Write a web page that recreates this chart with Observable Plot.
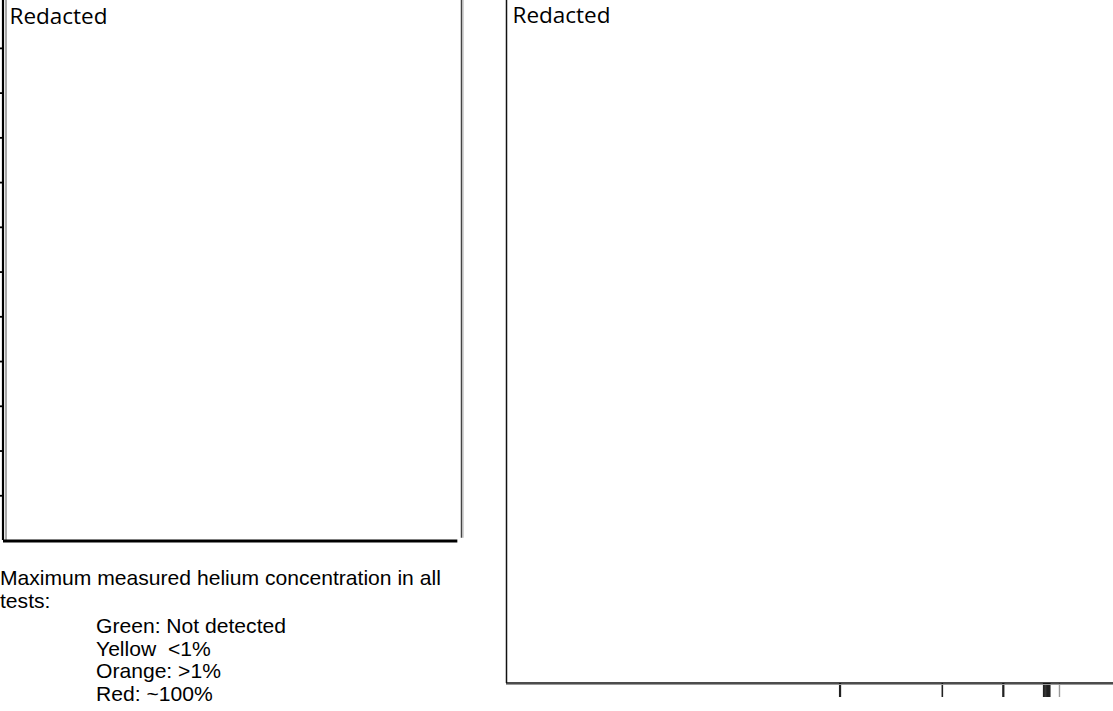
<!DOCTYPE html>
<html>
<head>
<meta charset="utf-8">
<script src="https://cdn.jsdelivr.net/npm/d3@7"></script>
<script src="https://cdn.jsdelivr.net/npm/@observablehq/plot@0.6"></script>
<style>
  html, body { margin: 0; padding: 0; background: #fff; }
  #wrap { position: relative; width: 1113px; height: 711px; overflow: hidden; }
  #left { position: absolute; left: 0; top: 0; }
  #right { position: absolute; left: 500px; top: 0; }
  .cap { position: absolute; left: 0; font-family: "Liberation Sans", Arial, sans-serif; font-size: 21.1px; line-height: 22.6px; color: #000; white-space: pre; }
  #cap1 { top: 567px; }
  #cap2 { top: 615px; left: 96px; }
</style>
</head>
<body>
<div id="wrap">
  <div id="left"></div>
  <div id="right"></div>
  <div class="cap" id="cap1"></div>
  <div class="cap" id="cap2"></div>
</div>
<script>
// ---- data ----
const panelTitles = ["Redacted", "Redacted"];
const leftTicks = [1, 2, 3, 4, 5, 6, 7, 8, 9, 10, 11];
const rightTicksDark = [54.9, 55.0, 71.8, 81.8, 81.9, 88.5, 88.7, 88.9, 89.1, 89.3, 89.5];
const rightTicksLight = [91.1];
const captionLines = ["Maximum measured helium concentration in all", "tests:"];
const legendLines = ["Green: Not detected", "Yellow  <1%", "Orange: >1%", "Red: ~100%"];

const titleFont = "'Open Sans', 'DejaVu Sans', sans-serif";
const noLabel = () => "";

// ---- left panel ----
const left = Plot.plot({
  width: 466, height: 545,
  marginLeft: 3, marginRight: 5, marginTop: 0, marginBottom: 5,
  x: {domain: [0, 1], axis: null},
  y: {domain: [0, 12.07], axis: null},
  marks: [
    Plot.axisY(leftTicks, {anchor: "left", tickSize: 3, tickFormat: noLabel, label: null, stroke: "#000", strokeWidth: 1.8}),
    Plot.ruleX([0], {y1: 0, y2: 12.07, stroke: "#000", strokeWidth: 2.2, dx: -0.5}),
    Plot.ruleX([0], {y1: 0, y2: 12.07, stroke: "#555", strokeWidth: 1, dx: 2.5}),
    Plot.ruleX([1], {y1: 0.05, y2: 12.07, stroke: "#444", strokeWidth: 1.5}),
    Plot.ruleX([1], {y1: 0.05, y2: 12.07, stroke: "#aaa", strokeWidth: 1, dx: 1.5}),
    Plot.ruleY([0], {x1: 0, x2: 0.992, stroke: "#000", strokeWidth: 3, dy: 0.5}),
    Plot.text([panelTitles[0]], {text: d => d, frameAnchor: "top-left", dx: 6, dy: 8, fontSize: 22.5, fontFamily: titleFont, fill: "#000"})
  ]
});
document.getElementById("left").appendChild(left);

// ---- right panel ----
const right = Plot.plot({
  width: 613, height: 711,
  marginLeft: 6, marginRight: 0, marginTop: 0, marginBottom: 28,
  x: {domain: [0, 100], axis: null},
  y: {domain: [0, 1], axis: null},
  marks: [
    Plot.axisX(rightTicksDark, {anchor: "bottom", tickSize: 14, tickFormat: noLabel, label: null, stroke: "#222", strokeWidth: 1.6}),
    Plot.axisX(rightTicksLight, {anchor: "bottom", tickSize: 14, tickFormat: noLabel, label: null, stroke: "#999", strokeWidth: 1.4}),
    Plot.ruleX([0], {stroke: "#111", strokeWidth: 1.5}),
    Plot.ruleY([0], {stroke: "#111", strokeWidth: 1.5, dy: -0.5}),
    Plot.ruleY([0], {stroke: "#999", strokeWidth: 1, dy: 1}),
    Plot.text([panelTitles[1]], {text: d => d, frameAnchor: "top-left", dx: 6, dy: 7, fontSize: 22.5, fontFamily: titleFont, fill: "#000"})
  ]
});
document.getElementById("right").appendChild(right);

// ---- caption ----
document.getElementById("cap1").textContent = captionLines.join("\n");
document.getElementById("cap2").textContent = legendLines.join("\n");
</script>
</body>
</html>
